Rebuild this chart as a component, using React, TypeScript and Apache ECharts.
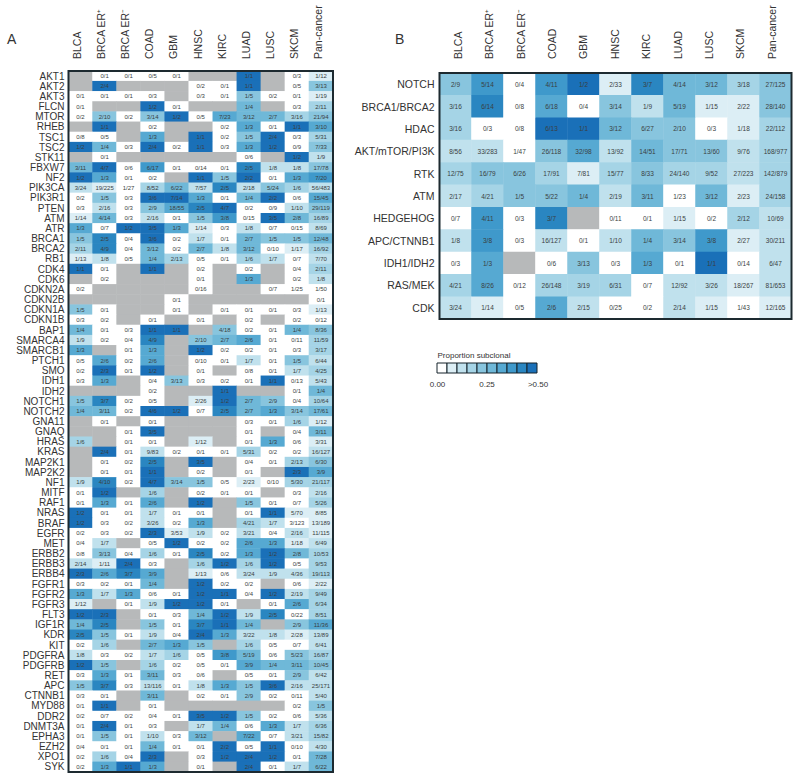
import React, { useEffect, useRef } from "react";
import * as echarts from "echarts";

const cancers = ["BLCA", "BRCA ER⁺", "BRCA ER⁻", "COAD", "GBM", "HNSC", "KIRC", "LUAD", "LUSC", "SKCM", "Pan-cancer"];

const genes = ["AKT1","AKT2","AKT3","FLCN","MTOR","RHEB","TSC1","TSC2","STK11","FBXW7","NF2","PIK3CA","PIK3R1","PTEN","ATM","ATR","BRCA1","BRCA2","RB1","CDK4","CDK6","CDKN2A","CDKN2B","CDKN1A","CDKN1B","BAP1","SMARCA4","SMARCB1","PTCH1","SMO","IDH1","IDH2","NOTCH1","NOTCH2","GNA11","GNAQ","HRAS","KRAS","MAP2K1","MAP2K2","NF1","MITF","RAF1","NRAS","BRAF","EGFR","MET","ERBB2","ERBB3","ERBB4","FGFR1","FGFR2","FGFR3","FLT3","IGF1R","KDR","KIT","PDGFRA","PDGFRB","RET","APC","CTNNB1","MYD88","DDR2","DNMT3A","EPHA3","EZH2","XPO1","SYK"];

const geneCells = [
"- 0/1 0/1 0/5 0/1 - - 1/1 - 0/3 1/12",
"- 2/4 - - - 0/2 0/1 1/1 - 0/5 3/13",
"0/1 0/1 0/1 0/3 - 0/3 0/1 1/5 0/2 0/1 1/19",
"0/1 - - 1/2 0/1 - - 1/4 - 0/3 2/11",
"0/2 2/10 0/2 3/14 1/2 0/5 7/23 3/12 2/7 3/16 21/94",
"- 1/1 - 0/2 - - 0/2 1/3 0/1 1/1 3/10",
"0/8 0/5 - 1/3 - 1/1 0/2 1/5 2/4 0/3 5/31",
"1/2 1/4 0/3 2/4 0/2 1/1 0/3 1/3 1/2 0/9 7/33",
"- 0/1 - - - - - 0/6 - 1/2 1/9",
"3/11 4/7 0/6 6/17 0/1 0/14 0/1 2/5 1/8 1/8 17/78",
"1/2 1/3 0/1 0/2 - 1/1 1/5 2/2 0/1 1/3 7/20",
"3/24 19/225 1/27 8/52 6/22 7/57 2/5 2/18 5/24 1/6 56/483",
"0/2 1/5 0/3 3/6 7/14 1/3 0/1 1/4 2/2 0/6 15/45",
"0/3 2/16 0/3 2/9 18/55 2/5 4/7 0/2 0/9 1/10 29/119",
"1/14 4/14 0/3 2/16 0/1 1/5 3/8 0/15 3/5 2/8 16/89",
"1/3 0/7 1/2 3/5 1/3 1/14 0/3 1/8 0/7 0/15 8/69",
"1/5 2/5 0/4 3/6 0/2 1/7 0/1 2/7 1/5 1/5 12/48",
"2/11 4/9 0/4 3/12 0/2 2/7 1/8 3/12 0/10 1/17 16/92",
"1/13 1/8 0/5 1/4 2/13 0/5 0/1 1/6 1/7 0/7 7/70",
"1/1 0/1 - 1/1 - 0/2 - 0/2 - 0/4 2/11",
"- 0/2 - - - 0/1 - 1/3 - 0/2 1/8",
"0/2 - - - - 0/16 - - 0/7 1/25 1/50",
"- - - - 0/1 - - - - - 0/1",
"1/5 0/1 - - 0/1 - 0/1 0/1 0/1 0/3 1/13",
"0/3 0/2 - 0/1 - 0/1 - 0/2 - 0/2 0/12",
"1/4 0/1 0/3 1/1 1/1 - 4/18 0/2 0/1 1/4 8/36",
"1/9 0/2 0/4 4/9 - 2/10 2/7 2/6 0/1 0/11 11/59",
"1/3 - 0/1 1/3 - 1/2 0/2 0/2 0/1 0/3 3/17",
"0/5 2/6 0/2 2/6 - 0/10 0/1 1/7 0/1 1/5 6/44",
"0/2 2/3 0/1 1/2 - 0/1 - 0/8 0/1 1/7 4/25",
"0/3 1/3 - 0/4 3/13 0/3 0/2 0/1 1/1 0/13 5/43",
"- - - 0/2 - - 1/1 - - 0/1 1/4",
"1/5 3/7 0/2 0/5 - 2/26 1/2 2/7 2/9 0/4 10/64",
"1/4 3/11 0/2 4/6 1/2 0/7 2/5 2/7 1/3 3/14 17/61",
"- 0/1 - 0/1 - - - 0/3 0/1 1/6 1/12",
"- - 0/1 3/5 - - - 0/1 - 0/4 3/11",
"1/6 - 0/1 0/1 - 1/12 - 0/1 1/3 0/6 3/31",
"- 2/4 0/1 9/83 0/2 0/1 0/1 5/31 0/2 0/2 16/127",
"- 0/1 0/2 2/5 - 3/5 - 0/4 0/1 2/13 6/30",
"- 0/1 0/1 1/1 - 0/2 - 0/1 - 2/3 3/9",
"1/9 4/10 0/2 4/7 3/14 1/5 0/5 2/23 0/10 5/30 21/117",
"0/1 1/2 - 1/6 - 0/2 0/1 0/1 - 0/3 2/16",
"0/1 1/3 0/1 2/6 - 1/2 - 1/5 0/1 0/7 5/26",
"1/2 0/1 0/1 1/7 0/1 0/1 - 0/1 1/1 5/70 8/85",
"1/2 0/3 0/2 3/26 0/2 1/3 - 4/21 1/7 3/123 13/189",
"0/2 0/3 0/2 2/3 3/53 1/9 0/2 3/21 0/4 2/16 11/115",
"0/4 1/7 - 0/5 1/2 0/2 0/2 2/6 1/3 1/18 6/49",
"0/8 3/13 0/4 1/6 0/1 2/5 0/2 1/3 1/2 2/8 10/53",
"2/14 1/11 2/4 0/3 - 1/6 1/2 1/6 1/2 0/5 9/53",
"2/3 2/6 3/7 3/9 - 1/13 0/6 3/24 1/9 4/36 19/113",
"0/3 0/2 0/1 1/4 - 1/2 0/2 0/2 - 0/6 2/22",
"1/3 1/7 1/3 0/6 0/1 1/2 1/1 0/4 1/2 2/19 9/49",
"1/12 - 0/1 1/9 1/2 1/2 0/1 - 0/1 2/6 6/34",
"1/2 2/3 - 0/1 0/3 1/4 1/2 1/9 2/5 0/22 8/51",
"1/4 2/5 - 1/5 0/1 3/7 1/1 1/4 - 2/9 11/36",
"2/5 1/5 0/1 1/9 0/4 2/4 1/3 3/22 1/8 2/28 13/89",
"0/2 1/6 - 2/7 1/3 1/5 - 1/6 0/5 0/7 6/41",
"1/8 0/3 0/2 1/7 1/6 0/5 3/8 5/19 0/6 5/23 16/87",
"1/2 1/5 - 1/6 0/2 0/5 0/1 3/9 1/4 3/11 10/45",
"0/3 1/3 0/1 3/11 0/3 0/6 - 0/5 0/1 2/9 6/42",
"1/5 3/7 0/3 13/116 0/1 1/8 1/3 1/5 3/6 2/16 25/171",
"0/3 0/1 - 3/11 - 0/2 0/1 2/9 0/2 0/11 5/40",
"0/1 1/1 - 0/1 - - - - - 0/2 1/5",
"0/2 0/7 0/2 0/4 0/1 3/5 1/2 1/5 0/2 0/6 5/36",
"0/1 2/4 0/1 0/3 - 1/7 1/4 0/6 1/3 1/7 6/36",
"0/1 1/5 0/1 1/10 0/3 3/12 - 7/22 0/7 3/21 15/82",
"0/4 0/1 0/1 1/4 0/1 0/1 2/2 0/5 1/1 0/10 4/30",
"0/2 1/6 0/4 2/3 - 0/3 1/2 2/4 1/2 0/1 7/28",
"0/2 1/3 1/1 1/3 - 0/1 - 2/4 0/1 1/7 6/22",
];

const pathways = ["NOTCH", "BRCA1/BRCA2", "HDAC", "AKT/mTOR/PI3K", "RTK", "ATM", "HEDGEHOG", "APC/CTNNB1", "IDH1/IDH2", "RAS/MEK", "CDK"];

const pathwayCells = [
"2/9 5/14 0/4 4/11 1/2 2/33 3/7 4/14 3/12 3/18 27/125",
"3/16 6/14 0/8 6/18 0/4 3/14 1/9 5/19 1/15 2/22 28/140",
"3/16 0/3 0/8 6/13 1/1 3/12 6/27 2/10 0/3 1/18 22/112",
"8/56 33/283 1/47 26/118 32/98 13/92 14/51 17/71 13/60 9/76 168/977",
"12/75 16/79 6/26 17/91 7/81 15/77 8/33 24/140 9/52 27/223 142/879",
"2/17 4/21 1/5 5/22 1/4 2/19 3/11 1/23 3/12 2/23 24/158",
"0/7 4/11 0/3 3/7 - 0/11 0/1 1/15 0/2 2/12 10/69",
"1/8 3/8 0/3 16/127 0/1 1/10 1/4 3/14 3/8 2/27 30/211",
"0/3 1/3 - 0/6 3/13 0/3 1/3 0/1 1/1 0/14 6/47",
"4/21 8/26 0/12 26/148 3/19 6/31 0/7 12/92 3/26 18/267 81/653",
"3/24 1/14 0/5 2/6 2/15 0/25 0/2 2/14 1/15 1/43 12/165",
];

const palette = ["#ffffff", "#dceef5", "#c0e1ed", "#a5d4e6", "#88c5de", "#6fb8d8", "#56a9d2", "#3f99cb", "#2a86c1", "#1a70b8"];
const missingColor = "#b7b9ba";
const textColor = "#333333";
const frameColor = "#1d2a30";
const legendTicks = ["0.00", "0.25", ">0.50"];
const font = "'Liberation Sans', Arial, sans-serif";

const proportion = (cell: string) => {
  if (cell === "-") return -1;
  const [k, n] = cell.split("/").map(Number);
  return k / n + 1e-9;
};

const toData = (rows: string[]) =>
  rows.flatMap((row, y) =>
    row.split(" ").map((cell, x) => ({
      value: [x, y, proportion(cell)],
      text: cell === "-" ? "" : cell,
    }))
  );

const pieces = [
  { lt: 0, color: missingColor },
  ...palette.map((color, i) =>
    i === 9 ? { gte: 0.45, color } : { gte: i === 0 ? 0 : i * 0.05, lt: (i + 1) * 0.05, color }
  ),
];

const panels = [
  { left: 68.5, top: 71, width: 264.5, height: 701, rows: genes, cells: geneCells, rowFont: 10, cellFont: 6, rowMargin: 4, colBottom: 59, colStart: 77.3, colPitch: 24.04 },
  { left: 439.5, top: 73, width: 352, height: 246, rows: pathways, cells: pathwayCells, rowFont: 10.5, cellFont: 6.5, rowMargin: 5, colBottom: 59, colStart: 457.7, colPitch: 31.4 },
];

export default function App() {
  const ref = useRef<HTMLDivElement>(null);
  useEffect(() => {
    const chart = echarts.init(ref.current!, null, { renderer: "svg" });
    const legendX = 437, legendY = 363, legendCell = 10;
    chart.setOption({
      animation: false,
      backgroundColor: "#ffffff",
      textStyle: { fontFamily: font },
      visualMap: {
        type: "piecewise",
        show: false,
        dimension: 2,
        seriesIndex: [0, 1],
        pieces,
      },
      grid: panels.map((p) => ({ left: p.left, top: p.top, width: p.width, height: p.height, containLabel: false })),
      xAxis: panels.map((p, i) => ({
        type: "category",
        gridIndex: i,
        position: "top",
        data: cancers,
        axisLine: { show: false },
        axisTick: { show: false },
        splitLine: { show: false },
        axisLabel: { show: false },
      })),
      yAxis: panels.map((p, i) => ({
        type: "category",
        gridIndex: i,
        inverse: true,
        data: p.rows,
        axisLine: { show: false },
        axisTick: { show: false },
        splitLine: { show: false },
        axisLabel: { interval: 0, fontSize: p.rowFont, color: textColor, margin: p.rowMargin, fontFamily: font },
      })),
      series: panels.map((p, i) => ({
        type: "heatmap",
        xAxisIndex: i,
        yAxisIndex: i,
        data: toData(p.cells),
        progressive: 0,
        emphasis: { disabled: true },
        label: {
          show: true,
          fontSize: p.cellFont,
          color: "#3a3f42",
          fontFamily: font,
          formatter: (q: any) => q.data.text,
        },
      })),
      graphic: [
        ...panels.flatMap((p) =>
          cancers.map((name, i) => ({
            type: "text",
            x: p.colStart + i * p.colPitch,
            y: p.colBottom,
            rotation: Math.PI / 2,
            style: { text: name, fontSize: 10.5, fill: textColor, fontFamily: font, align: "left", verticalAlign: "middle" },
          }))
        ),
        ...panels.map((p) => ({
          type: "rect",
          z: 100,
          shape: { x: p.left, y: p.top, width: p.width, height: p.height },
          style: { fill: "none", stroke: frameColor, lineWidth: 2 },
        })),
        { type: "text", x: 7, y: 32, style: { text: "A", fontSize: 14, fill: textColor, fontFamily: font } },
        { type: "text", x: 395, y: 32, style: { text: "B", fontSize: 14, fill: textColor, fontFamily: font } },
        { type: "text", x: 437.5, y: 351, style: { text: "Proportion subclonal", fontSize: 8, fill: textColor, fontFamily: font } },
        ...palette.map((c, i) => ({
          type: "rect",
          shape: { x: legendX + i * legendCell, y: legendY, width: legendCell, height: legendCell },
          style: { fill: c, stroke: "#14232a", lineWidth: 1 },
        })),
        ...legendTicks.map((t, i) => ({
          type: "text",
          x: [437.5, 487, 538][i],
          y: 380,
          style: { text: t, fontSize: 8, fill: textColor, align: "center", fontFamily: font },
        })),
      ],
    });
    return () => chart.dispose();
  }, []);
  return <div ref={ref} style={{ position: "fixed", left: 0, top: 0, width: 800, height: 779 }} />;
}
